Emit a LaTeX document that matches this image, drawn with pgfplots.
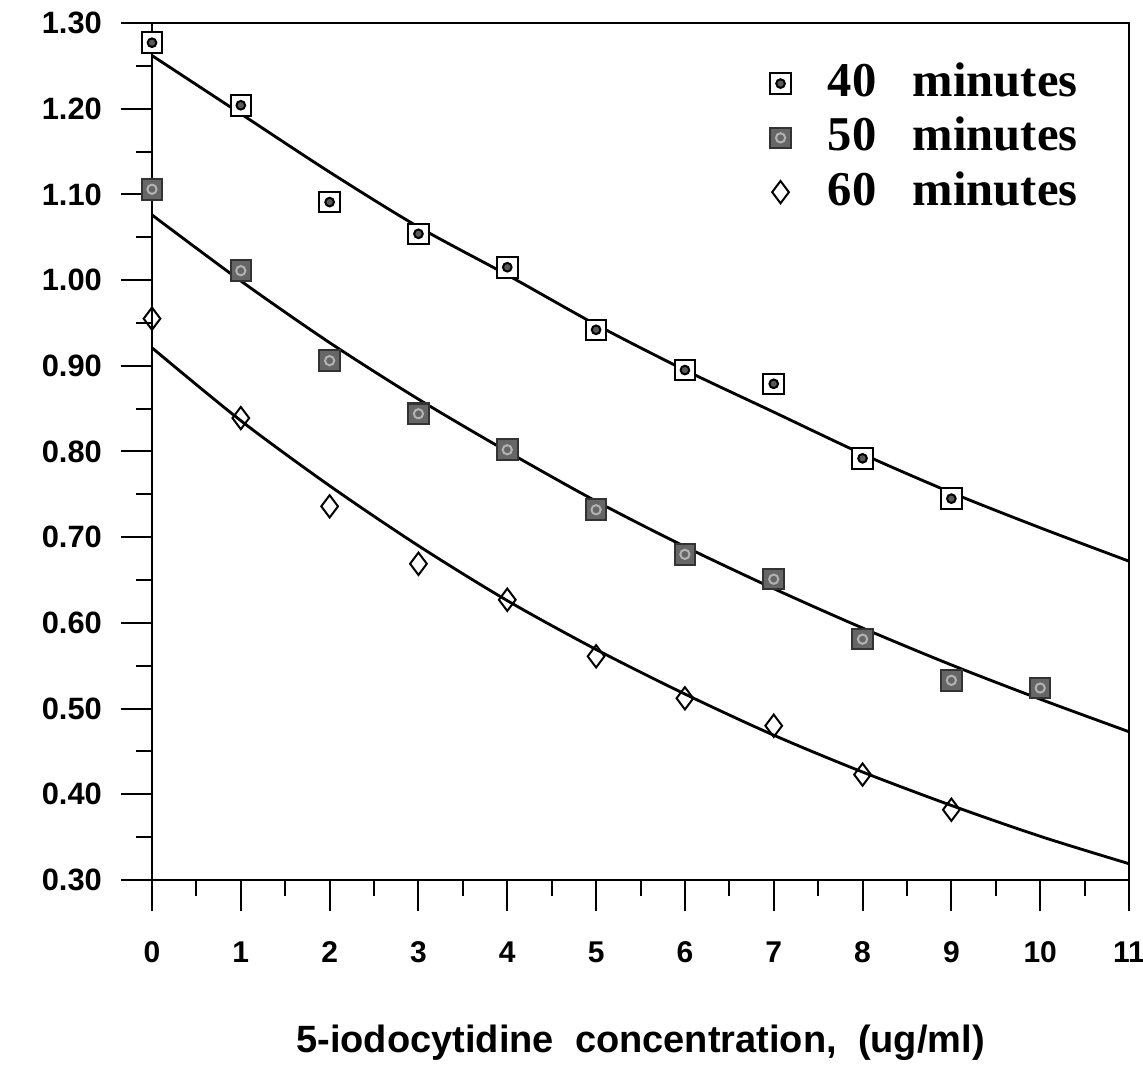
\documentclass[border=0pt]{standalone}
\usepackage{fontspec}
\setmainfont{Liberation Sans}
\newfontfamily\legfont{Liberation Serif}
\usepackage{pgfplots}
\pgfplotsset{compat=1.18}

\pgfdeclareplotmark{sqdot}{%
  \pgfpathrectanglecorners{\pgfpoint{-\pgfplotmarksize}{-\pgfplotmarksize}}{\pgfpoint{\pgfplotmarksize}{\pgfplotmarksize}}%
  \pgfusepathqfillstroke
  \pgfscope
  \pgfsetfillcolor{black!65}%
  \pgfpathcircle{\pgfpointorigin}{0.42\pgfplotmarksize}%
  \pgfusepathqfillstroke
  \endpgfscope
}
\pgfdeclareplotmark{sqdark}{%
  \pgfpathrectanglecorners{\pgfpoint{-\pgfplotmarksize}{-\pgfplotmarksize}}{\pgfpoint{\pgfplotmarksize}{\pgfplotmarksize}}%
  \pgfusepathqfillstroke
  \pgfscope
  \pgfsetstrokecolor{black!30}%
  \pgfpathcircle{\pgfpointorigin}{0.45\pgfplotmarksize}%
  \pgfusepathqstroke
  \endpgfscope
}

\begin{document}
\begin{tikzpicture}
\begin{axis}[
  name=ax,
  scale only axis,
  width=341.91pt, height=299.91pt,
  xmin=0, xmax=11, ymin=0.30, ymax=1.30,
  axis line style={line width=0.8pt},
  xtick={0,1,...,11},
  minor xtick={0.5,1.5,...,10.5},
  ytick={0.30,0.40,...,1.31},
  minor ytick={0.35,0.45,...,1.26},
  tick align=outside,
  xtick pos=bottom, ytick pos=left,
  major tick length=11pt,
  minor tick length=5.5pt,
  every tick/.style={line width=0.7pt, black},
  tick label style={font=\bfseries},
  xticklabel style={font=\bfseries\fontsize{10.5}{12}\selectfont, yshift=-7pt},
  yticklabel style={font=\bfseries\fontsize{10.8}{12}\selectfont, xshift=-3pt},
  /pgf/number format/assume math mode=true,
  yticklabel={\pgfmathprintnumber[fixed,fixed zerofill,precision=2]{\tick}},
  xlabel={5-iodocytidine\ \ concentration,\ \ (ug/ml)},
  xlabel style={font=\bfseries\fontsize{13.3}{15}\selectfont, yshift=-15pt},
  legend style={at={(0.948,0.955)}, anchor=north east, draw=none, fill=none,
    inner sep=0pt, row sep=4pt,
    font=\legfont\bfseries\fontsize{17}{18}\selectfont,
    nodes={inner sep=0pt, text height=12pt, text depth=3pt},
    /tikz/every odd column/.append style={column sep=13pt}},
  legend cell align=left,
  legend image code/.code={\draw[#1] plot coordinates {(0.3cm,0cm)};},
]
\addplot[black, line width=1pt, smooth, forget plot] coordinates {
(0,1.262) (1,1.194) (2,1.126) (3,1.062) (4,1.006) (5,0.948) (6,0.895) (7,0.846) (8,0.797) (9,0.752) (10,0.711) (11,0.672)};
\addplot[black, line width=1pt, smooth, forget plot] coordinates {
(0,1.076) (1,0.999) (2,0.927) (3,0.861) (4,0.800) (5,0.742) (6,0.689) (7,0.640) (8,0.594) (9,0.551) (10,0.511) (11,0.473)};
\addplot[black, line width=1pt, smooth, forget plot] coordinates {
(0,0.921) (1,0.836) (2,0.760) (3,0.690) (4,0.626) (5,0.569) (6,0.517) (7,0.469) (8,0.426) (9,0.387) (10,0.351) (11,0.319)};

\addplot[only marks, mark=sqdot, mark size=3.6pt, mark options={draw=black, fill=white, line width=0.7pt}] coordinates {
(0,1.277) (1,1.204) (2,1.091) (3,1.054) (4,1.015) (5,0.942) (6,0.895) (7,0.879) (8,0.792) (9,0.745)};
\addlegendentry{40\hspace{0.75em}minutes}
\addplot[only marks, mark=sqdark, mark size=3.6pt, mark options={draw=black!80, fill=black!60, line width=0.7pt}] coordinates {
(0,1.106) (1,1.011) (2,0.906) (3,0.844) (4,0.802) (5,0.732) (6,0.680) (7,0.651) (8,0.581) (9,0.533) (10,0.524)};
\addlegendentry{50\hspace{0.75em}minutes}
\addplot[only marks, mark=diamond, mark size=3.9pt, mark options={draw=black, fill=white, line width=0.7pt}] coordinates {
(0,0.955) (1,0.839) (2,0.736) (3,0.669) (4,0.627) (5,0.561) (6,0.512) (7,0.480) (8,0.423) (9,0.382)};
\addlegendentry{60\hspace{0.75em}minutes}
\end{axis}
\pgfresetboundingbox
\path[use as bounding box] ([shift={(-53.19pt,-66.14pt)}]ax.south west) rectangle ([shift={(4.90pt,8.05pt)}]ax.north east);
\end{tikzpicture}
\end{document}
